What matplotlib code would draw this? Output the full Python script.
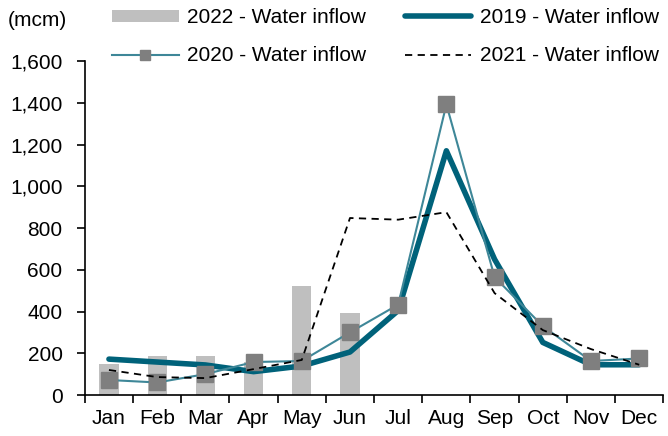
import matplotlib.pyplot as plt
from matplotlib.ticker import FuncFormatter

months = ["Jan", "Feb", "Mar", "Apr", "May", "Jun", "Jul", "Aug", "Sep", "Oct", "Nov", "Dec"]
inflow_2022 = [150, 187, 187, 160, 520, 395]
inflow_2019 = [172, 158, 144, 112, 139, 206, 405, 1170, 650, 252, 145, 145]
inflow_2020 = [72, 60, 100, 158, 163, 300, 433, 1392, 565, 330, 163, 175]
inflow_2021 = [120, 86, 81, 124, 168, 848, 840, 876, 488, 311, 220, 145]

plt.rcParams['font.family'] = ['Liberation Sans', 'DejaVu Sans']
plt.rcParams['font.size'] = 15

fig = plt.figure(figsize=(6.68, 4.36), dpi=100)
ax = fig.add_axes([0.127, 0.094, 0.866, 0.766])

x = list(range(len(months)))
b = ax.bar(x[:len(inflow_2022)], inflow_2022, width=0.4, color="#BFBFBF", label="2022 - Water inflow", zorder=1)
l19, = ax.plot(x, inflow_2019, color="#00627A", lw=4, label="2019 - Water inflow", zorder=3,
               solid_capstyle="round")
l20, = ax.plot(x, inflow_2020, color="#3E8798", lw=1.5, marker="s", markersize=11,
               markerfacecolor="#7F7F7F", markeredgecolor="#7F7F7F", label="2020 - Water inflow", zorder=4)
l21, = ax.plot(x, inflow_2021, color="black", lw=1.3, ls=(0, (4, 3)), label="2021 - Water inflow", zorder=5)

ax.set_xlim(-0.5, 11.5)
ax.set_ylim(0, 1600)
ax.set_yticks(range(0, 1601, 200))
ax.yaxis.set_major_formatter(FuncFormatter(lambda v, p: f"{int(v):,}"))
ax.set_xticks(x)
ax.set_xticklabels(months)
ax.set_xticks([i - 0.5 for i in range(13)], minor=True)
ax.tick_params(axis="x", which="major", length=0, pad=10)
ax.tick_params(axis="x", which="minor", length=6, width=1.2, direction="out")
ax.tick_params(axis="y", length=6, width=1.2, direction="out", pad=10)

for s in ["top", "right"]:
    ax.spines[s].set_visible(False)
for s in ["left", "bottom"]:
    ax.spines[s].set_linewidth(1.2)

fig.text(0.012, 0.953, "(mcm)", va="center", ha="left")
fig.legend([b, l20, l19, l21],
           ["2022 - Water inflow", "2020 - Water inflow", "2019 - Water inflow", "2021 - Water inflow"],
           ncol=2, loc="upper left", bbox_to_anchor=(112 / 668, 1 - 8 / 436), frameon=False,
           borderpad=0, borderaxespad=0, markerscale=0.65, handleheight=0.5,
           handlelength=3.2, columnspacing=1.85, handletextpad=0.4, labelspacing=0.93)

fig.savefig("out.png", dpi=100)
